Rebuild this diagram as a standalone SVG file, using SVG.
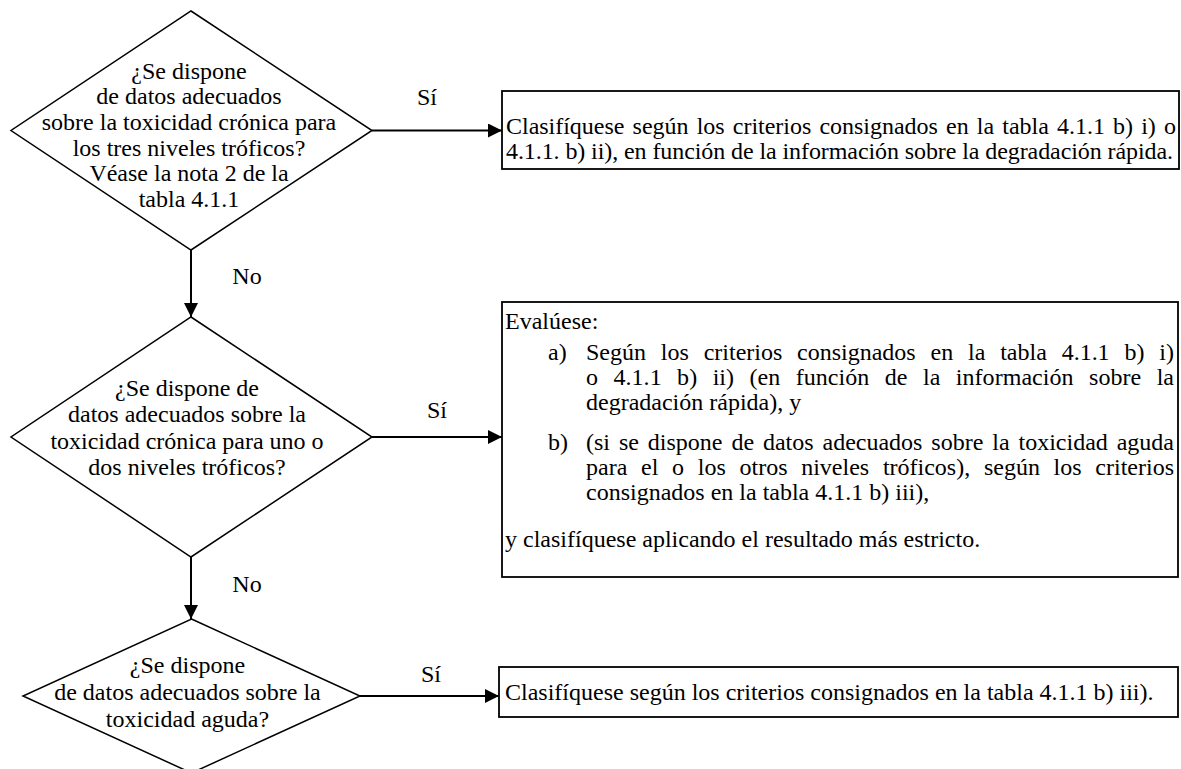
<svg xmlns="http://www.w3.org/2000/svg" width="1181" height="769" viewBox="0 0 1181 769">
<style>
text{font-family:"Liberation Serif","Times New Roman",serif;font-size:24px;fill:#000}
.c{text-anchor:middle}
.shape{fill:#fff;stroke:#000;stroke-width:1.5}
.box{fill:#fff;stroke:#000;stroke-width:1.8}
.conn line{stroke:#000;stroke-width:2}
</style>
<defs>
<marker id="ah" markerUnits="userSpaceOnUse" markerWidth="15" markerHeight="14" refX="14" refY="7" orient="auto">
<path d="M0,0 L14,7 L0,14 Z" fill="#000"/>
</marker>
</defs>
<rect width="1181" height="769" fill="#fff"/>
<g id="connectors" class="conn">
<line x1="191" y1="250" x2="191" y2="317" marker-end="url(#ah)"/>
<line x1="191" y1="557" x2="191" y2="619" marker-end="url(#ah)"/>
<line x1="372" y1="130.5" x2="502" y2="130.5" marker-end="url(#ah)"/>
<line x1="372" y1="437" x2="502" y2="437" marker-end="url(#ah)"/>
<line x1="360" y1="696" x2="499" y2="696" marker-end="url(#ah)"/>
<text class="c" x="247" y="284">No</text>
<text class="c" x="247" y="592">No</text>
<text class="c" x="427" y="105">Sí</text>
<text class="c" x="437" y="418">Sí</text>
<text class="c" x="431" y="682">Sí</text>
</g>
<g id="q1">
<polygon class="shape" points="191,11 372,130.5 191,250 11,130.5"/>
<text class="c" x="189" y="78.5">¿Se dispone</text>
<text class="c" x="189" y="104">de datos adecuados</text>
<text class="c" x="189" y="130">sobre la toxicidad crónica para</text>
<text class="c" x="189" y="155.5">los tres niveles tróficos?</text>
<text class="c" x="189" y="181">Véase la nota 2 de la</text>
<text class="c" x="189" y="207">tabla 4.1.1</text>
</g>
<g id="q2">
<polygon class="shape" points="191,317 372,437 191,557 11,437"/>
<text class="c" x="187" y="395.5">¿Se dispone de</text>
<text class="c" x="187" y="422">datos adecuados sobre la</text>
<text class="c" x="187" y="448.5">toxicidad crónica para uno o</text>
<text class="c" x="187" y="475">dos niveles tróficos?</text>
</g>
<g id="q3">
<polygon class="shape" points="191.5,619 360,696 191.5,773 23,696"/>
<text class="c" x="187.5" y="673">¿Se dispone</text>
<text class="c" x="187.5" y="700">de datos adecuados sobre la</text>
<text class="c" x="187.5" y="727">toxicidad aguda?</text>
</g>
<g id="r1">
<rect class="box" x="502" y="91" width="677" height="78"/>
<text x="506" y="133.5" word-spacing="2.2" textLength="670" lengthAdjust="spacing">Clasifíquese según los criterios consignados en la tabla 4.1.1 b) i) o</text>
<text x="506" y="159" textLength="667" lengthAdjust="spacing">4.1.1. b) ii), en función de la información sobre la degradación rápida.</text>
</g>
<g id="r2">
<rect class="box" x="502" y="302" width="676" height="275"/>
<text x="505" y="329">Evalúese:</text>
<text x="548" y="360">a)</text>
<text x="586" y="360" word-spacing="8.9" textLength="588" lengthAdjust="spacing">Según los criterios consignados en la tabla 4.1.1 b) i)</text>
<text x="586" y="385" word-spacing="9.4" textLength="588" lengthAdjust="spacing">o 4.1.1 b) ii) (en función de la información sobre la</text>
<text x="586" y="410">degradación rápida), y</text>
<text x="548" y="450">b)</text>
<text x="586" y="450" word-spacing="2.9" textLength="588" lengthAdjust="spacing">(si se dispone de datos adecuados sobre la toxicidad aguda</text>
<text x="586" y="475" word-spacing="7.7" textLength="588" lengthAdjust="spacing">para el o los otros niveles tróficos), según los criterios</text>
<text x="586" y="500">consignados en la tabla 4.1.1 b) iii),</text>
<text x="505" y="547">y clasifíquese aplicando el resultado más estricto.</text>
</g>
<g id="r3">
<rect class="box" x="499" y="667" width="679" height="50"/>
<text x="505" y="700">Clasifíquese según los criterios consignados en la tabla 4.1.1 b) iii).</text>
</g>
</svg>
